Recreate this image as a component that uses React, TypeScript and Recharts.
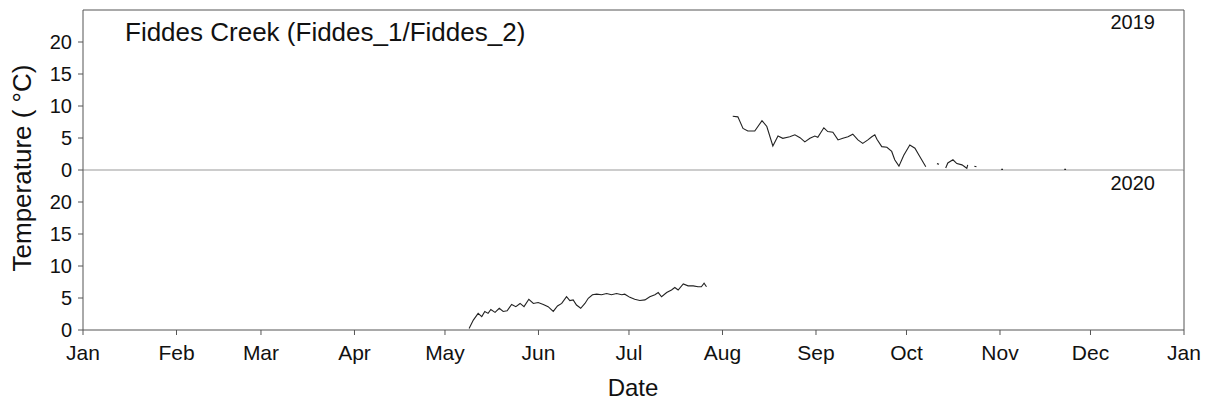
import React from 'react';
import { LineChart, Line, XAxis, YAxis, ReferenceLine } from 'recharts';

// Day-of-year positions and temperatures (°C), 2019 panel (null = gap in record)
const days2019 = [215.4, 217.1, 218.8, 220.4, 222.7, 225.1, 226.7, 228.7, 230.4, 232.0, 234.3, 236.0, 237.7, 239.3, 241.0, 242.6, 243.6, 245.6, 246.9, 248.6, 250.3, 251.9, 253.6, 255.2, 256.9, 258.5, 260.2, 261.5, 262.5, 263.2, 264.8, 266.5, 268.1, 269.1, 270.5, 272.1, 274.1, 275.8, 277.4, 279.4, 281.0, 283.1, 283.8, 285.0, 286.0, 286.7, 288.4, 289.7, 291.4, 292.3, 293.0, 293.3, 294.5, 295.5, 296.2, 300.0, 304.4, 305.0, 315.0, 325.3, 325.9];
const temps2019 = [8.4, 8.3, 6.5, 6.1, 6.1, 7.7, 6.8, 3.75, 5.3, 4.95, 5.2, 5.5, 5.05, 4.4, 4.95, 5.3, 5.1, 6.6, 6.0, 5.9, 4.7, 4.95, 5.2, 5.6, 4.7, 4.15, 4.7, 5.2, 5.5, 4.8, 3.65, 3.55, 2.9, 1.6, 0.6, 2.3, 3.9, 3.4, 2.1, 0.5, null, 1.0, 0.9, null, 0.3, 1.1, 1.6, 1.0, 0.8, 0.5, 0.25, 0.8, null, 0.6, 0.5, null, 0.1, 0.1, null, 0.1, 0.1];

// 2020 panel
const days2020 = [128.0, 129.4, 131.0, 132.2, 133.2, 134.3, 135.2, 136.6, 138.0, 139.3, 140.6, 142.1, 143.5, 144.9, 146.2, 147.8, 149.3, 150.9, 152.6, 154.2, 155.9, 157.3, 158.7, 160.3, 161.4, 162.5, 163.6, 165.0, 166.4, 167.5, 168.9, 170.3, 171.9, 173.6, 175.2, 176.9, 178.6, 179.6, 181.3, 182.9, 184.6, 186.3, 187.9, 189.6, 190.7, 191.8, 193.5, 195.1, 196.2, 197.3, 199.0, 200.6, 202.3, 203.9, 205.0, 205.9, 206.7];
const temps2020 = [0.25, 1.55, 2.6, 2.1, 2.9, 2.6, 3.2, 2.75, 3.4, 2.9, 3.0, 4.0, 3.65, 4.15, 3.65, 4.8, 4.15, 4.3, 4.0, 3.65, 2.9, 3.75, 4.15, 5.2, 4.6, 4.7, 3.9, 3.4, 4.15, 4.95, 5.5, 5.6, 5.5, 5.7, 5.5, 5.7, 5.5, 5.6, 5.1, 4.8, 4.6, 4.7, 5.2, 5.5, 5.85, 5.2, 5.85, 6.25, 6.65, 6.25, 7.2, 6.9, 6.9, 6.75, 6.75, 7.3, 6.75];

const monthTicks = [0, 31, 59, 90, 120, 151, 181, 212, 243, 273, 304, 334, 365];
const monthLabels = ['Jan', 'Feb', 'Mar', 'Apr', 'May', 'Jun', 'Jul', 'Aug', 'Sep', 'Oct', 'Nov', 'Dec', 'Jan'];
const tempTicks = [0, 5, 10, 15, 20];

const title = 'Fiddes Creek (Fiddes_1/Fiddes_2)';
const yearTop = '2019';
const yearBottom = '2020';

const data2019 = days2019.map((d, i) => ({ day: d, temp: temps2019[i] }));
const data2020 = days2020.map((d, i) => ({ day: d, temp: temps2020[i] }));

const FONT = '"Liberation Sans", Arial, sans-serif';
const W = 1214;
const H = 406;
const axisColor = '#555';
const yTickStyle = { fill: '#111', fontSize: 20, fontFamily: FONT };
const xTickStyle = { fill: '#111', fontSize: 21, fontFamily: FONT };
const lineColor = '#222';

export default function App() {
  const monthFmt = (v: number) => monthLabels[monthTicks.indexOf(v)] ?? '';
  return (
    <div style={{ position: 'absolute', left: 0, top: 0, width: W, height: H, background: '#fff' }}>
      <div style={{ position: 'absolute', left: 0, top: 0 }}>
        <LineChart width={W} height={H} data={data2019} margin={{ top: 10, right: 30, left: 0, bottom: 236 }}>
          <XAxis dataKey="day" type="number" domain={[0, 365]} ticks={monthTicks} hide />
          <YAxis
            type="number"
            domain={[0, 25]}
            ticks={tempTicks}
            interval={0}
            width={83}
            tickSize={5}
            tickMargin={6}
            tick={yTickStyle}
            axisLine={{ stroke: axisColor }}
            tickLine={{ stroke: axisColor }}
          />
          <ReferenceLine y={25} stroke={axisColor} strokeWidth={1} />
          <ReferenceLine x={365} stroke={axisColor} strokeWidth={1} />
          <ReferenceLine y={0} stroke="#999" strokeWidth={1} />
          <Line type="linear" dataKey="temp" stroke={lineColor} strokeWidth={1.1} dot={false} isAnimationActive={false} connectNulls={false} />
        </LineChart>
      </div>
      <div style={{ position: 'absolute', left: 0, top: 0 }}>
        <LineChart width={W} height={H} data={data2020} margin={{ top: 170, right: 30, left: 0, bottom: 36 }}>
          <XAxis
            dataKey="day"
            type="number"
            domain={[0, 365]}
            ticks={monthTicks}
            interval={0}
            tickFormatter={monthFmt}
            height={40}
            tickSize={5}
            tickMargin={10}
            tick={xTickStyle}
            axisLine={{ stroke: axisColor }}
            tickLine={{ stroke: axisColor }}
          />
          <YAxis
            type="number"
            domain={[0, 25]}
            ticks={tempTicks}
            interval={0}
            width={83}
            tickSize={5}
            tickMargin={6}
            tick={yTickStyle}
            axisLine={{ stroke: axisColor }}
            tickLine={{ stroke: axisColor }}
          />
          <ReferenceLine x={365} stroke={axisColor} strokeWidth={1} />
          <Line type="linear" dataKey="temp" stroke={lineColor} strokeWidth={1.1} dot={false} isAnimationActive={false} connectNulls={false} />
        </LineChart>
      </div>
      <svg width={W} height={H} style={{ position: 'absolute', left: 0, top: 0, pointerEvents: 'none' }}>
        <text x={125} y={41} fontSize={26} fontFamily={FONT} fill="#111">{title}</text>
        <text x={1155} y={29} fontSize={20} fontFamily={FONT} fill="#111" textAnchor="end">{yearTop}</text>
        <text x={1155} y={190} fontSize={20} fontFamily={FONT} fill="#111" textAnchor="end">{yearBottom}</text>
        <text
          x={0}
          y={0}
          transform="translate(31,168) rotate(-90)"
          fontSize={26}
          fontFamily={FONT}
          fill="#111"
          textAnchor="middle"
        >
          Temperature ( °C)
        </text>
        <text x={633} y={396} fontSize={24} fontFamily={FONT} fill="#111" textAnchor="middle">Date</text>
      </svg>
    </div>
  );
}
